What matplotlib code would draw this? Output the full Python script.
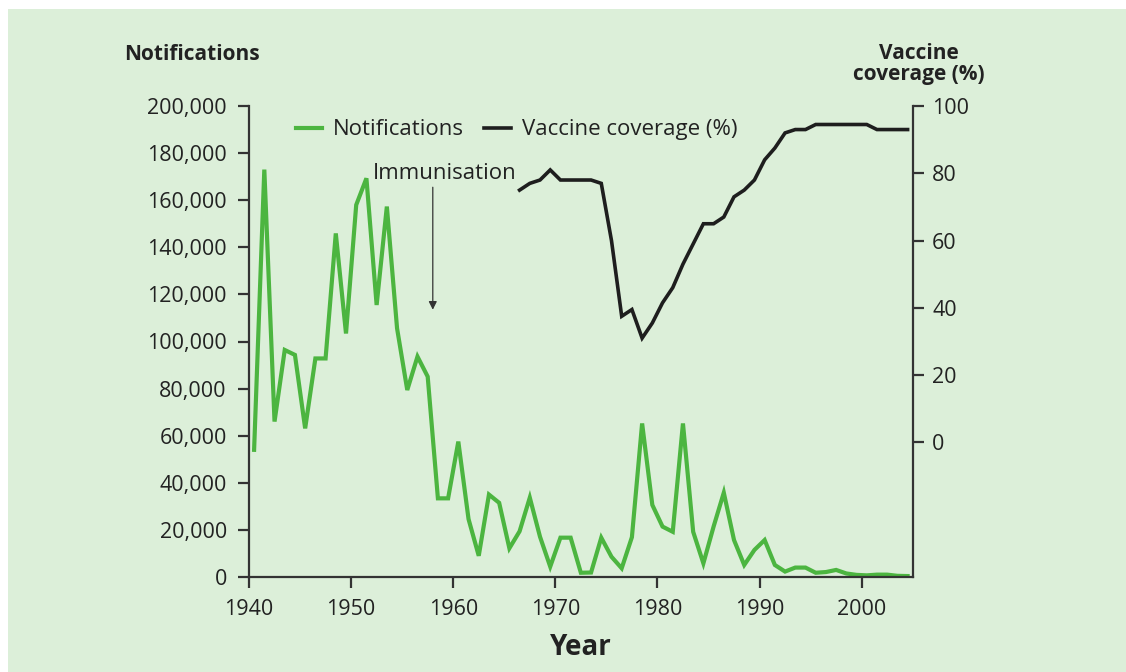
import matplotlib
matplotlib.use('Agg')
import matplotlib.pyplot as plt
from matplotlib.patches import Rectangle
from matplotlib.ticker import FuncFormatter

plt.rcParams['font.family'] = ['Open Sans', 'DejaVu Sans']

# Notifications per year, 1940-2004
notif_years = list(range(1940, 2005))
notifications = [
    54000, 173000, 66000, 96400, 94300, 63100, 92800, 92800, 145900, 103400,
    158000, 169300, 115500, 157300, 105600, 79400, 93600, 85100, 33400, 33400,
    57500, 24600, 9000, 35000, 31500, 12200, 19400, 33700, 17100, 4400,
    16700, 16700, 1800, 1900, 16700, 8600, 3700, 16900, 65200, 30600,
    21400, 19200, 65200, 19200, 5800, 21400, 35800, 15700, 5100, 11500,
    15700, 5100, 2300, 4000, 4000, 1800, 2100, 3000, 1500, 900,
    700, 1000, 1000, 500, 400,
]

# Vaccine coverage (%), 1966-2004
vacc_years = list(range(1966, 2005))
coverage = [
    75, 77, 78, 81, 78, 78, 78, 78, 77, 60,
    37.5, 39.5, 31, 35.5, 41.5, 46, 53, 59, 65, 65,
    67, 73, 75, 78, 84, 87.5, 92, 93, 93, 94.5,
    94.5, 94.5, 94.5, 94.5, 94.5, 93, 93, 93, 93,
]

immunisation_year = 1958

green = '#4cb540'
dark = '#1e1e1e'
text_col = '#222222'
bg = '#dcefd9'

fig = plt.figure(figsize=(11.26, 6.72), dpi=100)
fig.patches.append(Rectangle((8 / 1126, 0), 1, 1 - 9 / 672, transform=fig.transFigure,
                             facecolor=bg, edgecolor='none', zorder=-10))

ax = fig.add_axes([249 / 1126, 1 - 577 / 672, (912.7 - 249) / 1126, (577 - 106) / 672])
ax.set_facecolor('none')
ax2 = ax.twinx()

# points sit in the middle of each year
l1, = ax.plot([y + 0.5 for y in notif_years], notifications, color=green, lw=3.0,
              label='Notifications', solid_joinstyle='miter')
l2, = ax2.plot([y + 0.5 for y in vacc_years], coverage, color=dark, lw=2.6,
               label='Vaccine coverage (%)', solid_joinstyle='miter')

ax.set_xlim(1940, 2005)
ax.set_ylim(0, 200000)
ax2.set_ylim(-40, 100)
ax.set_xticks(range(1940, 2001, 10))
ax.set_yticks(range(0, 200001, 20000))
ax2.set_yticks(range(0, 101, 20))
ax.yaxis.set_major_formatter(FuncFormatter(lambda v, p: f'{int(v):,}'))

for a in (ax, ax2):
    a.spines['top'].set_visible(False)
    for s in a.spines.values():
        s.set_color('#333333')
        s.set_linewidth(1.6)
    a.tick_params(direction='out', length=8, width=1.6, color='#333333',
                  labelsize=15.5, labelcolor=text_col)
ax.spines['right'].set_visible(False)
ax2.spines['left'].set_visible(False)
ax2.spines['bottom'].set_visible(False)
ax.tick_params(axis='y', pad=8)
ax.tick_params(axis='x', pad=8)
ax2.tick_params(axis='y', pad=6)

ax.set_xlabel('Year', fontsize=20, fontweight='bold', color=text_col, labelpad=9)

fig.text(124 / 1126, 1 - 54 / 672, 'Notifications', fontsize=15, fontweight='bold',
         color=text_col, ha='left', va='center')
fig.text(919 / 1126, 1 - 64 / 672, 'Vaccine\ncoverage (%)', fontsize=15, fontweight='bold',
         color=text_col, ha='center', va='center', multialignment='center', linespacing=1.05)

# immunisation marker
ax.annotate('', xy=(immunisation_year, 113500), xytext=(immunisation_year, 165500),
            arrowprops=dict(arrowstyle='-|>', lw=0.9, color='#333333',
                            mutation_scale=12, shrinkA=0, shrinkB=0))
ax.text(immunisation_year + 1.2, 171500, 'Immunisation', fontsize=16, color=text_col,
        ha='center', va='center')

leg = ax.legend(handles=[l1, l2], loc='upper left', bbox_to_anchor=(0.05, 1.0), ncol=2,
                frameon=False, fontsize=16, handlelength=1.2, handletextpad=0.5,
                columnspacing=0.9, borderaxespad=0.2)
for t in leg.get_texts():
    t.set_color(text_col)

fig.savefig('out.png', dpi=100, facecolor='white')
